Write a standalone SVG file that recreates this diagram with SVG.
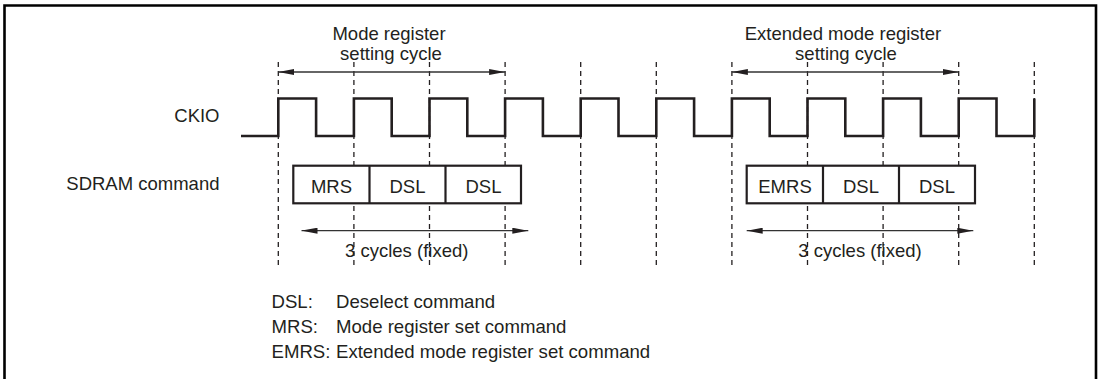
<svg xmlns="http://www.w3.org/2000/svg" width="1103" height="379" viewBox="0 0 1103 379">
<style>
text{font-family:"Liberation Sans",Arial,sans-serif;font-size:18.5px;fill:#231f20}
.mid{text-anchor:middle}
.end{text-anchor:end}
.leg{font-size:18.6px}
.dash{stroke:#231f20;stroke-width:1.3;stroke-dasharray:5,4;fill:none}
.clk{stroke:#231f20;stroke-width:2.6;fill:none;stroke-linejoin:miter}
.box{stroke:#231f20;stroke-width:2.2;fill:#fff}
.arr{stroke:#333;stroke-width:1.3;fill:none;marker-start:url(#ah);marker-end:url(#ah)}
.frame{stroke:#000;stroke-width:2.6;fill:none}
</style>
<defs>
<marker id="ah" viewBox="0 0 16 6" refX="16" refY="3" markerWidth="16" markerHeight="6" markerUnits="userSpaceOnUse" orient="auto-start-reverse">
<path d="M0,0 L16,3 L0,6 Z" fill="#231f20"/>
</marker>
</defs>
<path class="frame" d="M4.5,379 V5.5 H1096 V379"/>
<g id="gridlines">
<path class="dash" d="M278.3,62V268 M353.9,62V268 M429.5,62V268 M505.1,62V268 M580.7,62V268 M656.3,62V268 M731.9,62V268 M807.5,62V268 M883.1,62V268 M958.7,62V268 M1034.3,62V268"/>
</g>
<g id="labels">
<text class="end" x="219.5" y="122">CKIO</text>
<text class="end" x="219.5" y="190">SDRAM command</text>
</g>
<g id="ckio">
<path class="clk" d="M241,136 H278.3 V98.5 H316.1 V136 H353.9 V98.5 H391.7 V136 H429.5 V98.5 H467.3 V136 H505.1 V98.5 H542.9 V136 H580.7 V98.5 H618.5 V136 H656.3 V98.5 H694.1 V136 H731.9 V98.5 H769.7 V136 H807.5 V98.5 H845.3 V136 H883.1 V98.5 H920.9 V136 H958.7 V98.5 H996.5 V136 H1034.3 V98.5"/>
</g>
<g id="mrs-cycle">
<text class="mid" x="389" y="40">Mode register</text>
<text class="mid" x="391" y="59.5">setting cycle</text>
</g>
<g id="emrs-cycle">
<text class="mid" x="843" y="40">Extended mode register</text>
<text class="mid" x="846" y="59.5">setting cycle</text>
</g>
<g id="cmd-mrs">
<rect class="box" x="293.3" y="165.7" width="227.7" height="37.6"/>
<path class="box" d="M369.5,165.7V203.3 M445.5,165.7V203.3"/>
<text class="mid" x="331.5" y="192.5">MRS</text>
<text class="mid" x="407.5" y="192.5">DSL</text>
<text class="mid" x="483.5" y="192.5">DSL</text>
</g>
<g id="cmd-emrs">
<rect class="box" x="746.7" y="165.7" width="228.3" height="37.6"/>
<path class="box" d="M823,165.7V203.3 M899,165.7V203.3"/>
<text class="mid" x="785" y="192.5">EMRS</text>
<text class="mid" x="861" y="192.5">DSL</text>
<text class="mid" x="937" y="192.5">DSL</text>
</g>
<g id="connectors">
<path class="arr" d="M278.3,72 H505.1"/>
<path class="arr" d="M731.9,72 H958.7"/>
<path class="arr" d="M301.5,230.7 H528.3"/>
<path class="arr" d="M746.7,230.7 H973.3"/>
</g>
<g id="fixed-labels">
<text class="mid" x="406.7" y="257">3 cycles (fixed)</text>
<text class="mid" x="860" y="257">3 cycles (fixed)</text>
</g>
<g id="legend">
<text class="leg" x="271.5" y="308.3">DSL:</text>
<text class="leg" x="336" y="308.3">Deselect command</text>
<text class="leg" x="271.5" y="333.3">MRS:</text>
<text class="leg" x="336" y="333.3">Mode register set command</text>
<text class="leg" x="271.5" y="358.3">EMRS:</text>
<text class="leg" x="336" y="358.3">Extended mode register set command</text>
</g>
</svg>
